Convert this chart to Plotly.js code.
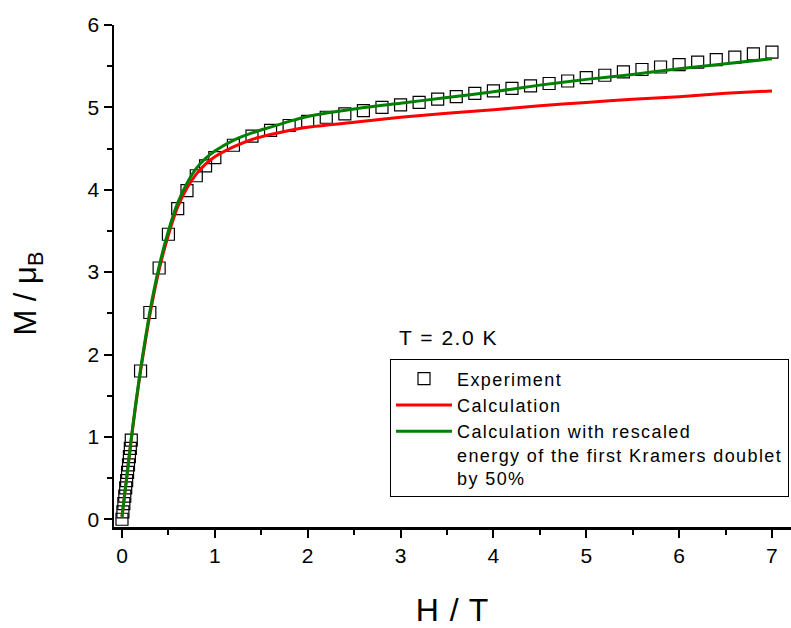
<!DOCTYPE html>
<html>
<head>
<meta charset="utf-8">
<script src="https://cdn.plot.ly/plotly-3.0.1.min.js"></script>
<style>
html,body{margin:0;padding:0;background:#fff;}
#chart{width:791px;height:628px;}
.legendtext{letter-spacing:1.4px;}
.xtitle{letter-spacing:1px;}
</style>
</head>
<body>
<div id="chart"></div>
<script>
// Experimental data: field H (T) and magnetisation M (muB)
const expH = [0, 0.01, 0.02, 0.03, 0.04, 0.05, 0.06, 0.07, 0.08, 0.09, 0.10,
  0.2, 0.3, 0.4, 0.5, 0.6, 0.7, 0.8, 0.9, 1.0,
  1.2, 1.4, 1.6, 1.8, 2.0, 2.2, 2.4, 2.6, 2.8, 3.0, 3.2, 3.4, 3.6, 3.8, 4.0,
  4.2, 4.4, 4.6, 4.8, 5.0, 5.2, 5.4, 5.6, 5.8, 6.0, 6.2, 6.4, 6.6, 6.8, 7.0];
const expM = [0, 0.09, 0.19, 0.28, 0.38, 0.47, 0.57, 0.66, 0.76, 0.86, 0.96,
  1.80, 2.51, 3.05, 3.46, 3.77, 3.99, 4.17, 4.29, 4.39,
  4.54, 4.65, 4.72, 4.78, 4.83, 4.88, 4.92, 4.96, 5.00, 5.03, 5.06, 5.10, 5.13, 5.17, 5.20,
  5.23, 5.26, 5.29, 5.32, 5.36, 5.39, 5.43, 5.46, 5.49, 5.52, 5.55, 5.58, 5.61, 5.65, 5.67];

// Calculated curves
const calcH = [0, 0.05, 0.1, 0.15, 0.2, 0.25, 0.3, 0.4, 0.5, 0.6, 0.7, 0.8, 0.9, 1.0,
  1.2, 1.4, 1.6, 1.8, 2.0, 2.5, 3.0, 3.5, 4.0, 4.5, 5.0, 5.5, 6.0, 6.5, 7.0];
const calcM = [0.03, 0.5, 0.97, 1.4, 1.8, 2.15, 2.48, 3.03, 3.45, 3.79, 4.02, 4.19, 4.31, 4.4,
  4.52, 4.61, 4.67, 4.72, 4.76, 4.82, 4.88, 4.93, 4.97, 5.02, 5.06, 5.10, 5.13, 5.17, 5.20];
const rescaledM = [0.03, 0.5, 0.98, 1.42, 1.82, 2.18, 2.52, 3.07, 3.5, 3.84, 4.08, 4.26, 4.38, 4.47,
  4.6, 4.69, 4.76, 4.83, 4.89, 4.98, 5.05, 5.12, 5.19, 5.27, 5.34, 5.40, 5.47, 5.53, 5.59];

const xTicks = [0, 1, 2, 3, 4, 5, 6, 7];
const yTicks = [0, 1, 2, 3, 4, 5, 6];

const FONT = 'Liberation Sans, Arial, sans-serif';

const traces = [
  {x: expH, y: expM, type: 'scatter', mode: 'markers', name: 'Experiment',
   marker: {symbol: 'square-open', size: 12, color: '#000', line: {width: 1.2, color: '#000'}}},
  {x: calcH, y: calcM, type: 'scatter', mode: 'lines', name: 'Calculation',
   line: {color: '#ff0000', width: 3, shape: 'spline', smoothing: 0.6}},
  {x: calcH, y: rescaledM, type: 'scatter', mode: 'lines',
   name: 'Calculation with rescaled<br>energy of the first Kramers doublet<br>by 50%',
   line: {color: '#008000', width: 3, shape: 'spline', smoothing: 0.6}}
];

const layout = {
  width: 791, height: 628,
  margin: {l: 114, r: 0, t: 25, b: 101},
  paper_bgcolor: '#fff', plot_bgcolor: '#fff',
  font: {family: FONT, color: '#000'},
  xaxis: {
    range: [-0.086, 7.205], showgrid: false, zeroline: false,
    showline: true, linewidth: 2.5, linecolor: '#000',
    tickvals: xTicks, ticktext: xTicks.map(String),
    ticks: 'outside', ticklen: 8, tickwidth: 2, tickcolor: '#000',
    tickfont: {size: 21, family: FONT},
    minor: {dtick: 0.5, ticks: 'outside', ticklen: 5, tickwidth: 2, tickcolor: '#000', showgrid: false},
    title: {text: 'H / T', font: {size: 32, family: FONT}, standoff: 33}
  },
  yaxis: {
    range: [-0.094, 6.0], showgrid: false, zeroline: false,
    showline: true, linewidth: 2.5, linecolor: '#000',
    tickvals: yTicks, ticktext: yTicks.map(String),
    ticks: 'outside', ticklen: 8, tickwidth: 2, tickcolor: '#000',
    tickfont: {size: 21, family: FONT},
    minor: {dtick: 0.5, ticks: 'outside', ticklen: 5, tickwidth: 2, tickcolor: '#000', showgrid: false},
    title: {text: ''}
  },
  showlegend: true,
  legend: {
    x: 0.4077, y: 0.334, xanchor: 'left', yanchor: 'top', valign: 'top',
    bgcolor: '#fff', bordercolor: '#000', borderwidth: 1,
    font: {size: 18, family: FONT}, tracegroupgap: 0, itemwidth: 56
  },
  annotations: [
    {text: '<span style="letter-spacing:1.5px">T = 2.0 K</span>', xref: 'paper', yref: 'paper', x: 0.418, y: 0.378,
     xanchor: 'left', yanchor: 'middle', showarrow: false,
     font: {size: 21, family: FONT}},
    {text: 'M / μ<sub>B</sub>', xref: 'paper', yref: 'paper', x: -0.127, y: 0.465,
     xanchor: 'center', yanchor: 'middle', textangle: -90, showarrow: false,
     font: {size: 31, family: FONT}}
  ]
};

Plotly.newPlot('chart', traces, layout, {displayModeBar: false, staticPlot: true});
</script>
</body>
</html>
